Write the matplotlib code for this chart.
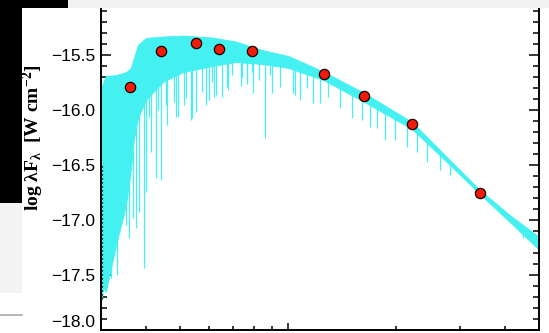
import numpy as np
import matplotlib
matplotlib.use("Agg")
import matplotlib.pyplot as plt
from matplotlib.patches import Rectangle
from matplotlib.lines import Line2D
from matplotlib.ticker import FixedLocator, NullFormatter

plt.rcParams["mathtext.default"] = "regular"

CYAN = "#45f0f0"

# model spectrum: upper edge and lower edge of the densely blanketed band
spec_wl = [0.300, 0.305, 0.310, 0.331, 0.353, 0.364, 0.371, 0.381, 0.401, 0.447, 0.508,
           0.615, 0.712, 0.847, 1.000, 1.251, 1.626, 2.210, 2.818, 3.415, 4.137, 5.0]
spec_top = [-15.82, -15.745, -15.691, -15.682, -15.655, -15.618, -15.527, -15.409, -15.345,
            -15.332, -15.323, -15.341, -15.377, -15.455, -15.509, -15.650, -15.845,
            -16.109, -16.455, -16.727, -16.955, -17.155]
spec_bottom = [-17.75, -17.62, -17.655, -17.227, -16.864, -16.545, -16.273, -16.073, -15.909,
               -15.745, -15.655, -15.600, -15.564, -15.582, -15.618, -15.727, -15.927,
               -16.173, -16.500, -16.764, -17.018, -17.273]

# strongest absorption features (wavelength, line core)
line_wl = [0.320, 0.334, 0.3415, 0.353, 0.360, 0.368, 0.376, 0.384, 0.396, 0.401,
           0.408, 0.414, 0.427, 0.433, 0.441, 0.455, 0.460, 0.480, 0.486, 0.492,
           0.511, 0.518, 0.534, 0.540, 0.552, 0.576, 0.588, 0.600, 0.614, 0.619,
           0.627, 0.654, 0.676, 0.677, 0.698, 0.736, 0.744, 0.768, 0.769, 0.793,
           0.799, 0.827, 0.863, 0.891, 0.901, 0.950, 1.032, 1.046, 1.080, 1.129,
           1.173, 1.227, 1.291, 1.395, 1.503, 1.602, 1.690, 1.764, 1.860, 1.983,
           2.137, 2.278, 2.428, 2.644, 2.818, 3.136, 3.680, 3.963, 4.271, 4.505]
line_core = [-17.527, -17.500, -17.045, -17.045, -17.164, -16.982, -17.073, -16.927,
             -17.436, -16.745, -16.064, -16.382, -16.618, -16.000, -16.636, -15.955,
             -16.136, -15.927, -16.064, -16.064, -15.955, -15.891, -16.091, -16.073,
             -16.018, -15.836, -15.955, -15.909, -15.745, -15.882, -15.864, -15.882,
             -15.791, -15.818, -15.682, -15.782, -15.700, -15.745, -15.764, -15.655,
             -15.845, -15.727, -16.255, -15.682, -15.845, -15.791, -15.845, -15.864,
             -15.909, -15.800, -15.936, -15.936, -15.882, -15.982, -16.073, -16.091,
             -16.155, -16.164, -16.273, -16.273, -16.336, -16.382, -16.473, -16.545,
             -16.591, -16.655, -16.864, -16.927, -17.045, -17.164]

# broadband photometry U B V R I J H K L
phot_wl = [0.362, 0.441, 0.552, 0.640, 0.793, 1.253, 1.626, 2.21, 3.41]
phot_flux = [-15.788, -15.461, -15.394, -15.448, -15.461, -15.673, -15.873, -16.130, -16.752]

y_major = [-18.0, -17.5, -17.0, -16.5, -16.0, -15.5]
y_minor = [-17.9, -17.8, -17.7, -17.6, -17.4, -17.3, -17.2, -17.1, -16.9, -16.8,
           -16.7, -16.6, -16.4, -16.3, -16.2, -16.1, -15.9, -15.8, -15.7, -15.6,
           -15.4, -15.3, -15.2, -15.1]
x_major = [1.0]
x_minor = [0.4, 0.5, 0.6, 0.7, 0.8, 0.9, 2.0, 3.0, 4.0]

W, H = 549, 333
fig = plt.figure(figsize=(W / 100, H / 100), dpi=100)
fig.patch.set_facecolor("white")
ax = fig.add_axes([100.7 / W, 1 - 330 / H, 438.6 / W, 330 / H])

ax.fill_between(spec_wl, spec_bottom, spec_top, color=CYAN, lw=0.6, zorder=2)
start = np.interp(np.log10(line_wl), np.log10(spec_wl), spec_bottom)
ax.vlines(line_wl, line_core, start + 0.02, colors=CYAN, lw=0.9, zorder=2)
ax.vlines(0.303, -17.72, -16.48, colors="k", linestyles=(0, (1, 2.2)), lw=0.9, zorder=3)

ax.plot(phot_wl, phot_flux, "o", ms=7.4, mfc="#f01a08", mec="#1a0000", mew=0.9,
        zorder=4, clip_on=False)

ax.set_xscale("log")
ax.set_xlim(0.3, 5.0)
ax.set_ylim(-18.0, -15.0)
ax.xaxis.set_major_locator(FixedLocator(x_major))
ax.xaxis.set_minor_locator(FixedLocator(x_minor))
ax.xaxis.set_minor_formatter(NullFormatter())
ax.yaxis.set_major_locator(FixedLocator(y_major))
ax.yaxis.set_minor_locator(FixedLocator(y_minor))
ax.set_yticklabels([f"{v:.1f}".replace("-", "\u2212") for v in y_major],
                   family="Liberation Sans", fontsize=12.5)
ax.get_yticklabels()[0].set_verticalalignment("bottom")

ax.tick_params(axis="x", which="both", direction="in", labelbottom=False, width=1.1)
ax.tick_params(axis="x", which="major", length=5)
ax.tick_params(axis="x", which="minor", length=2.6)
ax.tick_params(axis="y", which="both", direction="in", right=True, width=1.1, pad=4)
ax.tick_params(axis="y", which="major", length=7)
ax.tick_params(axis="y", which="minor", length=4)
for side in ["left", "bottom", "right"]:
    ax.spines[side].set_linewidth(1.4)
ax.spines["top"].set_visible(False)

fig.text(33.5 / W, 1 - 138 / H, r"log λF$_{λ}$  [W cm$^{-2}$]", rotation=90,
         ha="center", va="center", family="Liberation Serif", weight="bold",
         fontsize=14)

# slide background around the figure
fig.add_artist(Rectangle((68 / W, 1 - 8 / H), 1, 8 / H, transform=fig.transFigure,
                         facecolor="#f1f1f1", edgecolor="none", zorder=5))
fig.add_artist(Rectangle((0, 1 - 8 / H), 68 / W, 8 / H, transform=fig.transFigure,
                         facecolor="black", edgecolor="none", zorder=5))
fig.add_artist(Rectangle((0, 1 - 203 / H), 22 / W, 195 / H, transform=fig.transFigure,
                         facecolor="black", edgecolor="none", zorder=5))
fig.add_artist(Rectangle((0, 1 - 293 / H), 22 / W, 90 / H, transform=fig.transFigure,
                         facecolor="#f3f3f3", edgecolor="none", zorder=5))
fig.add_artist(Line2D([0, 22 / W], [1 - 315 / H, 1 - 315 / H], transform=fig.transFigure,
                      color="#a8a8a8", lw=1.2, zorder=5))

fig.savefig("out.png", dpi=100)
